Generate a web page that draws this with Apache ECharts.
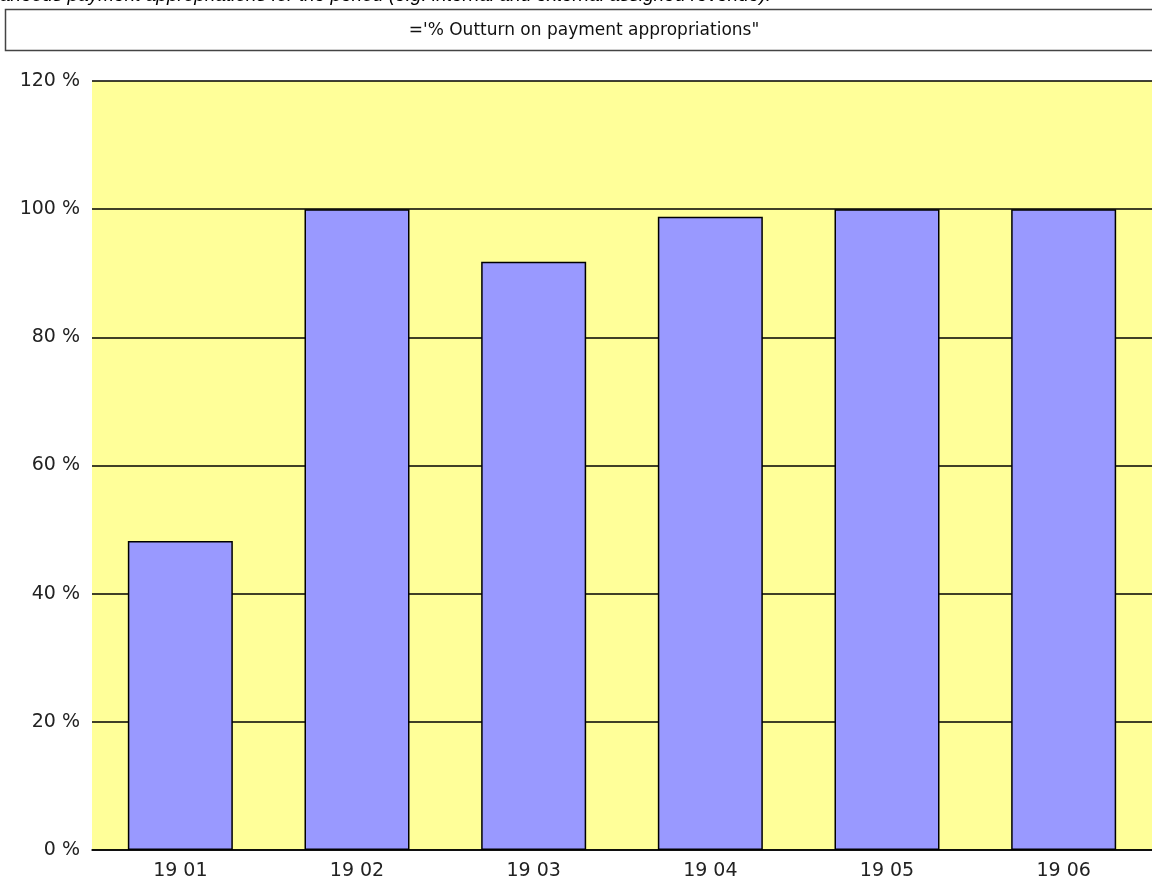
<!DOCTYPE html>
<html lang="en">
<head>
    <meta charset="UTF-8">
    <title>Outturn on payment appropriations</title>
    <script src="https://cdn.jsdelivr.net/npm/echarts@6/dist/echarts.min.js"></script>
    <style type="text/css">
        html, body {
            margin: 0;
            padding: 0;
            background: #fff;
        }
        #main {
            width: 1152px;
            height: 885px;
        }
    </style>
</head>
<body>
<div id="main"></div>
<script>
    var categories = ['19 01', '19 02', '19 03', '19 04', '19 05', '19 06'];
    var outturn = [48.2, 100, 91.8, 98.8, 100, 100];
    var yTicks = [0, 20, 40, 60, 80, 100, 120];

    var myChart = echarts.init(document.getElementById('main'));
    var option = {
        animation: false,
        backgroundColor: '#fff',
        graphic: [
            {
                type: 'text',
                left: 0,
                top: -14,
                style: {
                    text: 'aneous payment appropriations for the period (e.g. internal and external assigned revenue).',
                    font: 'italic 19px "Liberation Sans", Arial, sans-serif',
                    fill: '#000'
                }
            },
            {
                type: 'rect',
                shape: {x: 5.5, y: 9.5, width: 1160, height: 41},
                style: {fill: '#fff', stroke: '#444', lineWidth: 1.5}
            },
            {
                type: 'text',
                x: 584,
                y: 31,
                style: {
                    text: '=\'% Outturn on payment appropriations"',
                    font: '17px "DejaVu Sans", sans-serif',
                    fill: '#111',
                    align: 'center',
                    verticalAlign: 'middle'
                }
            }
        ],
        grid: {
            left: 92,
            top: 81,
            width: 1064,
            bottom: 35,
            show: true,
            backgroundColor: '#ffff99',
            borderWidth: 0
        },
        xAxis: {
            type: 'category',
            data: categories,
            axisLine: {lineStyle: {color: '#000', width: 1.5}},
            axisTick: {show: false},
            axisLabel: {
                color: '#222',
                fontSize: 19,
                fontFamily: '"DejaVu Sans", sans-serif',
                margin: 12
            }
        },
        yAxis: {
            type: 'value',
            min: yTicks[0],
            max: yTicks[yTicks.length - 1],
            interval: 20,
            axisLine: {show: false},
            axisTick: {show: false},
            axisLabel: {
                formatter: '{value} %',
                color: '#222',
                fontSize: 19,
                fontFamily: '"DejaVu Sans", sans-serif',
                margin: 12
            },
            splitLine: {lineStyle: {color: '#000', width: 1.5}}
        },
        series: [
            {
                type: 'bar',
                data: outturn,
                barWidth: 105,
                itemStyle: {
                    color: '#9999ff',
                    borderColor: '#000',
                    borderWidth: 1.5
                }
            }
        ]
    };
    myChart.setOption(option);
</script>
</body>
</html>
